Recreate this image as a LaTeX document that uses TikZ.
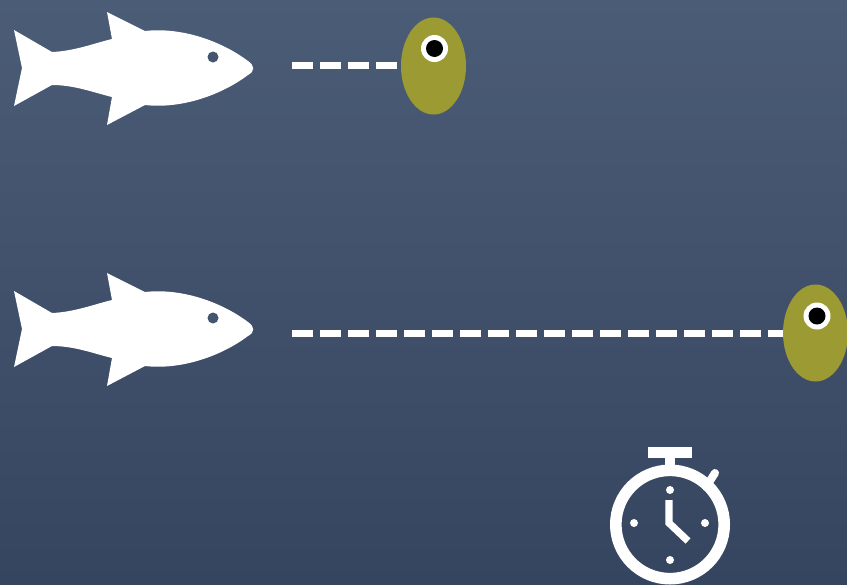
\documentclass[tikz,border=0pt]{standalone}
\usepackage{tikz}
\definecolor{seatop}{RGB}{75, 92, 119}
\definecolor{seabottom}{RGB}{54, 69, 95}
\definecolor{fisheye}{RGB}{68, 85, 112}
\definecolor{olivegreen}{RGB}{156, 154, 50}
\usetikzlibrary{shapes.geometric}

\begin{document}
\begin{tikzpicture}[x=0.25mm, y=-0.25mm,
			dot/.style={draw=none, fill=white, circle, minimum size=2mm, inner sep=0pt, outer sep=0pt},
			olive/.style={draw=none, fill=olivegreen, ellipse, minimum width=16.25mm, minimum height=24.25mm, inner sep=0pt, outer sep=0pt},
			iris/.style={fill=white, circle, minimum size=6.75mm, inner sep=0pt, outer sep=0pt},
			pupil/.style={fill=black, circle, minimum size=4.25mm, inner sep=0pt, outer sep=0pt},
			dashline/.style={white, line width=1.75mm, dash pattern=on 5.25mm off 1.75mm},
			fish/.pic={
				\fill[white] (14,30) -- (52,52) .. controls (75,51) and (95,43) .. (112,39)
					-- (107,12) -- (145,31) .. controls (180,27) and (220,40) .. (248,61)
					.. controls (255,66) and (255,71) .. (248,75) .. controls (220,96) and (180,109) .. (145,105)
					-- (107,125) -- (112,97) .. controls (95,93) and (75,85) .. (52,85)
					-- (14,106) -- (22,68) -- cycle;
				\node[fill=fisheye, circle, minimum size=2.75mm, inner sep=0pt] (-eye) at (213,57) {};
			}]
			%Hintergrund
			\useasboundingbox (0,0) rectangle (847,584);
			\clip (0,0) rectangle (847,584);
			\shade[top color=seatop, bottom color=seabottom] (0,0) rectangle (847,584);
			% Fische
			\pic (fishA) at (0,0) {fish};
			\pic (fishB) at (0,261) {fish};
			% Oliven
			\node[olive] (oliveA) at (433.5,66) {};
			\node[iris] (irisA) at (434.5,48.5) {};
			\node[pupil] (pupilA) at (434.5,48.5) {};
			\node[olive] (oliveB) at (815.5,333) {};
			\node[iris] (irisB) at (817,316) {};
			\node[pupil] (pupilB) at (817,316) {};
			% Gestrichelte Linien
			\coordinate (startA) at (292,65.5);
			\coordinate (startB) at (292,333);
			\draw[dashline] (startA) -- (oliveA.west |- startA);
			\draw[dashline] (startB) -- (oliveB.west |- startB);
			% Stoppuhr
			\node[draw=white, line width=2.9mm, circle, minimum size=27.1mm, inner sep=0pt, outer sep=0pt] (dial) at (670,524.5) {};
			\fill[white] (648,447) rectangle (692,458);
			\fill[white] (665,458) rectangle (675,466);
			\draw[white, line width=2mm, line cap=round] (706,487) -- (715,473);
			\node[dot] (dotN) at (670,490) {};
			\node[dot] (dotW) at (634,523) {};
			\node[dot] (dotE) at (705,523) {};
			\node[dot] (dotS) at (670,560) {};
			\draw[white, line width=1.8mm, miter limit=10] (669,500) -- (669,523) -- (688,541);
		\end{tikzpicture}
\end{document}
